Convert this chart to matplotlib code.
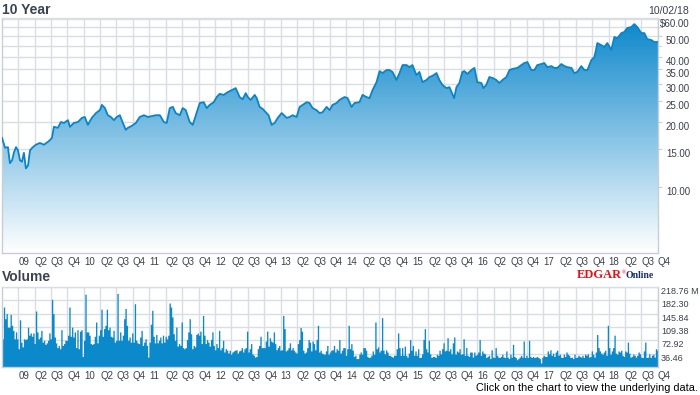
import matplotlib
matplotlib.use('Agg')
import matplotlib.pyplot as plt
import numpy as np
import pandas as pd
from matplotlib.colors import to_rgb
from matplotlib.ticker import NullFormatter

plt.rcParams['font.family'] = ['Liberation Sans', 'DejaVu Sans']

# ---- data ----
price_dates = [
    '2008-10-02', '2008-10-19', '2008-11-04', '2008-11-15', '2008-11-27', '2008-12-08', '2008-12-19', '2008-12-30',
    '2009-01-10', '2009-01-21', '2009-02-01', '2009-02-12', '2009-02-24', '2009-03-07', '2009-03-23', '2009-04-09',
    '2009-05-01', '2009-05-24', '2009-06-15', '2009-06-26', '2009-07-07', '2009-07-18', '2009-08-09', '2009-08-26',
    '2009-09-12', '2009-10-04', '2009-10-15', '2009-11-06', '2009-11-29', '2009-12-21', '2010-01-06', '2010-01-23',
    '2010-02-14', '2010-03-09', '2010-03-31', '2010-04-11', '2010-04-28', '2010-05-14', '2010-05-31', '2010-06-17',
    '2010-07-03', '2010-07-20', '2010-08-06', '2010-08-22', '2010-09-03', '2010-09-25', '2010-10-17', '2010-11-08',
    '2010-12-01', '2010-12-23', '2011-01-14', '2011-02-05', '2011-02-28', '2011-03-22', '2011-04-07', '2011-04-24',
    '2011-05-11', '2011-05-27', '2011-06-19', '2011-07-05', '2011-07-22', '2011-08-13', '2011-08-30', '2011-09-16',
    '2011-10-08', '2011-10-30', '2011-11-16', '2011-12-02', '2011-12-25', '2012-01-10', '2012-01-27', '2012-02-18',
    '2012-03-12', '2012-04-03', '2012-04-25', '2012-05-17', '2012-06-03', '2012-06-20', '2012-07-01', '2012-07-17',
    '2012-08-09', '2012-08-20', '2012-09-05', '2012-09-22', '2012-10-14', '2012-10-25', '2012-11-11', '2012-11-28',
    '2012-12-15', '2013-01-06', '2013-02-03', '2013-02-19', '2013-03-08', '2013-03-30', '2013-04-16', '2013-05-03',
    '2013-05-25', '2013-06-10', '2013-06-27', '2013-07-19', '2013-08-05', '2013-08-22', '2013-09-13', '2013-09-30',
    '2013-10-16', '2013-11-08', '2013-11-24', '2013-12-22', '2014-01-08', '2014-01-30', '2014-02-16', '2014-03-15',
    '2014-04-01', '2014-04-23', '2014-05-10', '2014-05-27', '2014-06-18', '2014-07-05', '2014-07-21', '2014-08-13',
    '2014-08-29', '2014-09-15', '2014-10-07', '2014-10-24', '2014-11-10', '2014-12-02', '2014-12-18', '2015-01-04',
    '2015-01-26', '2015-02-12', '2015-03-01', '2015-03-23', '2015-04-09', '2015-04-25', '2015-05-18', '2015-06-03',
    '2015-06-20', '2015-07-12', '2015-07-29', '2015-08-24', '2015-09-06', '2015-09-22', '2015-10-09', '2015-10-20',
    '2015-11-06', '2015-11-28', '2015-12-15', '2015-12-31', '2016-01-23', '2016-02-03', '2016-02-19', '2016-03-07',
    '2016-03-24', '2016-04-15', '2016-05-02', '2016-05-19', '2016-06-10', '2016-06-27', '2016-07-13', '2016-08-10',
    '2016-09-01', '2016-09-18', '2016-10-05', '2016-10-27', '2016-11-13', '2016-11-29', '2016-12-21', '2017-01-07',
    '2017-01-24', '2017-02-15', '2017-03-04', '2017-03-21', '2017-04-12', '2017-04-29', '2017-05-15', '2017-06-07',
    '2017-06-23', '2017-07-10', '2017-08-01', '2017-08-18', '2017-09-04', '2017-09-26', '2017-10-13', '2017-10-24',
    '2017-10-29', '2017-11-20', '2017-12-07', '2017-12-24', '2018-01-15', '2018-02-01', '2018-02-18', '2018-03-12',
    '2018-03-28', '2018-04-14', '2018-05-06', '2018-05-23', '2018-06-09', '2018-07-01', '2018-07-18', '2018-08-03',
    '2018-08-26', '2018-09-11', '2018-10-02',
]
price_values = [
    16.9, 15.2, 15.3, 12.9, 13.3, 14.5, 15.3, 14.8,
    13.3, 13.1, 14.4, 12.2, 12.6, 14.8, 15.3, 15.7,
    16.0, 15.7, 16.2, 16.5, 16.9, 19.0, 18.8, 20.0,
    19.8, 20.4, 19.0, 19.8, 20.0, 20.9, 21.1, 19.4,
    20.9, 22.0, 22.7, 24.0, 23.2, 21.5, 21.1, 20.4,
    21.1, 21.5, 19.8, 18.4, 18.8, 19.2, 19.8, 21.1,
    21.5, 21.1, 21.3, 21.5, 21.5, 20.0, 19.8, 23.2,
    23.5, 22.0, 21.5, 23.2, 22.7, 20.0, 19.4, 21.5,
    24.5, 24.7, 23.2, 24.0, 24.7, 26.1, 27.0, 26.7,
    27.5, 28.1, 28.7, 26.1, 25.5, 27.2, 26.1, 25.3,
    26.7, 25.8, 23.5, 23.0, 22.0, 21.5, 19.4, 19.8,
    20.9, 22.0, 20.9, 21.1, 21.5, 21.1, 23.5, 24.0,
    24.7, 24.5, 23.2, 22.7, 22.0, 22.2, 23.5, 22.7,
    24.0, 24.5, 25.3, 26.1, 25.8, 23.5, 24.5, 24.7,
    26.7, 26.1, 25.8, 28.1, 30.6, 34.4, 33.7, 34.8,
    34.8, 34.1, 31.3, 33.7, 36.7, 36.7, 35.9, 36.7,
    33.0, 34.1, 30.6, 31.3, 32.3, 32.7, 33.7, 31.3,
    29.7, 28.7, 29.0, 25.8, 29.0, 30.3, 34.1, 34.4,
    33.4, 34.8, 35.6, 30.6, 30.3, 28.7, 29.7, 32.3,
    32.0, 31.3, 30.3, 31.3, 32.3, 34.8, 35.2, 35.6,
    36.7, 37.5, 37.9, 34.8, 34.8, 36.7, 37.1, 37.5,
    35.9, 36.3, 35.6, 35.6, 37.1, 36.3, 35.9, 35.6,
    33.7, 34.1, 36.3, 34.8, 34.8, 38.7, 40.0, 44.0,
    46.4, 45.4, 44.5, 46.4, 43.1, 49.5, 48.9, 51.6,
    52.2, 54.5, 55.0, 56.8, 55.0, 51.6, 51.6, 48.4,
    47.9, 46.9, 46.9,
]

# weekly volume, millions of shares
volume = [
    77, 164, 132, 146, 109, 109, 144, 114, 100, 77, 96, 77, 50, 129, 68, 55, 77, 75, 77, 109,
    87, 93, 84, 93, 64, 153, 96, 77, 82, 100, 68, 73, 62, 66, 73, 93, 77, 185, 146, 82,
    66, 53, 59, 50, 102, 59, 64, 73, 73, 87, 164, 84, 109, 82, 96, 53, 102, 50, 98, 102,
    29, 73, 199, 96, 96, 87, 64, 62, 64, 84, 123, 66, 87, 102, 158, 84, 105, 114, 158, 102,
    109, 84, 82, 100, 68, 73, 201, 73, 96, 73, 87, 132, 160, 114, 73, 82, 68, 93, 68, 173,
    73, 66, 64, 82, 100, 59, 68, 77, 59, 27, 68, 117, 155, 84, 66, 89, 66, 73, 82, 66,
    87, 68, 84, 77, 87, 175, 164, 137, 91, 73, 109, 57, 64, 59, 123, 53, 50, 53, 75, 96,
    132, 91, 50, 59, 55, 89, 93, 87, 98, 64, 141, 87, 64, 75, 68, 57, 75, 96, 59, 47,
    64, 53, 100, 47, 53, 73, 41, 50, 46, 38, 46, 35, 41, 44, 46, 47, 38, 44,
    46, 53, 41, 50, 53, 98, 41, 50, 64, 36, 32, 27, 29, 50, 59, 84, 53, 53, 53, 71,
    98, 57, 80, 71, 68, 96, 64, 47, 53, 59, 46, 47, 141, 105, 44, 47, 53, 66, 47, 53,
    46, 41, 38, 64, 75, 108, 98, 46, 38, 41, 53, 75, 68, 44, 71, 64, 47, 75, 114, 41,
    46, 38, 36, 35, 44, 59, 35, 41, 46, 47, 59, 41, 50, 46, 75, 38, 46, 53, 53, 32,
    50, 114, 50, 64, 46, 29, 32, 23, 23, 35, 41, 35, 53, 53, 46, 29, 26, 27, 32, 44,
    35, 123, 50, 55, 41, 46, 135, 46, 36, 47, 41, 32, 32, 29, 27, 32, 32, 50, 93, 53,
    32, 53, 32, 57, 32, 27, 38, 75, 46, 59, 32, 44, 32, 50, 26, 27, 36, 75, 105, 50,
    41, 73, 36, 26, 29, 29, 26, 35, 32, 46, 36, 50, 66, 44, 46, 80, 44, 50, 36, 66,
    82, 35, 44, 41, 50, 35, 36, 77, 32, 53, 32, 29, 41,
    41, 27, 41, 32, 35, 41, 75, 32, 44, 38, 36, 26, 29, 32, 23, 47, 27, 26, 53, 32,
    27, 26, 29, 35, 27, 26, 44, 27, 23, 35, 27, 62, 29, 26, 20, 23, 27, 32, 27, 71,
    26, 32, 26, 73, 29, 26, 29, 26, 27, 29, 26, 23, 11, 27, 32, 29, 29, 44, 36, 47,
    32, 38, 29, 41, 46, 32, 35, 27, 26, 35, 29, 41, 35, 32, 26, 27, 23, 35, 26, 27,
    32, 29, 27, 32, 26, 35, 32, 36, 27, 29, 44, 35, 27, 41, 89, 53, 44, 38, 35, 41,
    46, 32, 114, 53, 35, 44, 53, 87, 38, 35, 44, 41, 46, 32, 29, 44, 41, 68, 38, 27,
    29, 35, 32, 27, 32, 41, 36, 27, 26, 44, 68, 26, 27, 36, 26, 32, 35, 27, 50, 46, 38,
]

price_ticks = [10, 15, 20, 25, 30, 35, 40, 50, 60]
price_labels = ['10.00', '15.00', '20.00', '25.00', '30.00', '35.00', '40.00', '50.00', '$60.00']
price_extra_grid = [45, 55]
vol_ticks = [36.46, 72.92, 109.38, 145.84, 182.30, 218.76]
vol_labels = ['36.46', '72.92', '109.38', '145.84', '182.30', '218.76 M']
start, end = '2008-10-02', '2018-10-02'

# ---- style ----
grid_col = '#d9dde4'
spine_col = '#c8cdd6'
txt_col = '#3a404c'
line_col = '#0a84c8'
bar_col = '#0a89cb'
tick_size = 7
vol_tick_size = 6.5

W, H = 700, 395


def box(x0, y0, x1, y1):
    return [x0 / W, 1 - y1 / H, (x1 - x0) / W, (y1 - y0) / H]


fig = plt.figure(figsize=(W / 100, H / 100), dpi=100)
ax = fig.add_axes(box(2, 18, 658, 253))
vx = fig.add_axes(box(2, 287, 658, 367))

quarters = pd.date_range('2009-01-01', '2018-10-01', freq='QS')
q_labels = ['%02d' % (q.year % 100) if q.month == 1 else 'Q%d' % ((q.month - 1) // 3 + 1) for q in quarters]

# ---- price panel ----
d = pd.to_datetime(price_dates)
p = np.array(price_values)
ax.set_yscale('log')
ax.set_xlim(pd.Timestamp(start), pd.Timestamp(end))
ax.set_ylim(4.95, 60.6)
ax.set_autoscale_on(False)

poly = ax.fill_between(d, p, 1, color='none', lw=0)
top = np.array(to_rgb('#0a86cb'))
frac = np.linspace(0, 1, 256)[:, None, None]
grad = top + (1 - top) * frac
im = ax.imshow(grad, extent=[0, 1, 0, 1], transform=ax.transAxes, aspect='auto',
               interpolation='bilinear', zorder=1)
im.set_clip_path(poly.get_paths()[0], transform=ax.transData)
ax.plot(d, p, color=line_col, lw=1.3, zorder=3)

ax.set_yticks(price_ticks, price_labels)
ax.set_yticks(price_extra_grid, minor=True)
ax.yaxis.set_minor_formatter(NullFormatter())
ax.tick_params(axis='y', which='both', left=False, labelleft=False, right=True, labelright=True,
               length=3, color=spine_col, pad=20, labelsize=tick_size, labelcolor=txt_col)
plt.setp(ax.get_yticklabels(), ha='right', va='top')

for a in (ax, vx):
    a.set_xticks(quarters, q_labels)
    a.tick_params(axis='x', length=0, pad=3, labelsize=tick_size, labelcolor=txt_col)
    plt.setp(a.get_xticklabels(), ha='left')
    a.set_axisbelow(True)
    a.grid(True, which='both', color=grid_col, lw=1)
    for s in a.spines.values():
        s.set_color(spine_col)
        s.set_linewidth(1)
    a.spines['top'].set_color(grid_col)

# ---- volume panel ----
vd = pd.date_range(start, end, periods=len(volume))
vx.fill_between(vd, volume, step='post', color=bar_col, lw=0, zorder=2)
vx.set_xlim(pd.Timestamp(start), pd.Timestamp(end))
vx.set_ylim(0, 218.76)
vx.set_yticks(vol_ticks, vol_labels)
vx.tick_params(axis='y', left=False, labelleft=False, right=False, labelright=True,
               length=0, pad=2.2, labelsize=vol_tick_size, labelcolor=txt_col)
plt.setp(vx.get_yticklabels(), ha='left', va='top')

# ---- texts ----
fig.text(2 / W, 1 - 9.5 / H, '10 Year', fontsize=10, fontweight='bold', color='#3b4250', va='center')
fig.text(2 / W, 1 - 277 / H, 'Volume', fontsize=10, fontweight='bold', color='#3b4250', va='center')
fig.text(689 / W, 1 - 11.5 / H, '10/02/18', fontsize=7.6, color=txt_col, ha='right', va='center')
fig.text(577 / W, 1 - 278.5 / H, 'EDGAR', family='Liberation Serif', fontweight='bold', fontsize=9,
         color='#e3101a', va='baseline')
fig.text(622 / W, 1 - 274 / H, '\u00ae', family='Liberation Serif', fontsize=4, color='#e3101a', va='baseline')
fig.text(625 / W, 1 - 278.5 / H, 'Online', family='Liberation Serif', fontweight='bold', fontsize=7,
         color='#1b2d6b', va='baseline')
fig.text(698 / W, 1 - 388 / H, 'Click on the chart to view the underlying data.', fontsize=7.8,
         color='black', ha='right', va='center')

fig.savefig('out.png', dpi=100, facecolor='white')
